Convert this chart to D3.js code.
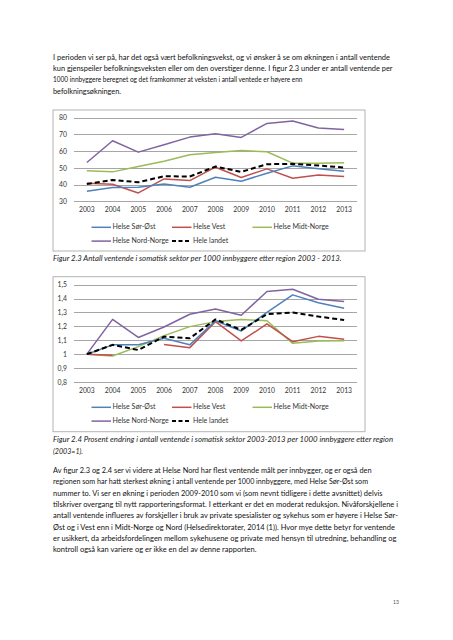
<!DOCTYPE html>
<html><head><meta charset="utf-8">
<script src="https://cdn.jsdelivr.net/npm/d3@7"></script>
<style>
html,body{margin:0;padding:0;background:#fff;}
svg{display:block;}
text{font-family:Lato,"Open Sans","Liberation Sans",sans-serif;}
</style></head>
<body>
<svg id="page" width="453" height="640"></svg>
<script>
const years = ["2003","2004","2005","2006","2007","2008","2009","2010","2011","2012","2013"];
const seriesNames = ["Helse Sør-Øst","Helse Vest","Helse Midt-Norge","Helse Nord-Norge","Hele landet"];
const seriesColors = ["#4F81BD","#C0504D","#9BBB59","#8064A2","#000000"];

// Figure 2.3: per 1000 inhabitants
const sorOst1   = [36.0,38.2,38.4,40.4,38.4,44.4,42.0,46.8,51.2,49.4,48.0];
const vest1     = [40.8,40.2,35.0,43.4,42.4,50.4,44.2,49.4,43.8,45.8,44.8];
const midt1     = [48.2,47.6,50.8,54.0,57.8,59.2,60.4,59.6,52.8,52.8,53.0];
const nord1     = [53.2,66.2,59.4,63.8,68.4,70.4,68.2,76.6,78.0,73.8,73.0];
const landet1   = [40.4,42.8,41.4,45.0,44.8,50.8,47.6,52.2,52.4,51.4,50.2];
const ticks1    = [30,40,50,60,70,80];

// Figure 2.4: change index (2003=1)
const sorOst2   = [1.0,1.067,1.067,1.114,1.067,1.240,1.167,1.300,1.426,1.370,1.330];
const vest2     = [1.0,0.992,null,1.070,1.047,1.234,1.095,1.217,1.090,1.128,1.107];
const midt2     = [1.0,0.987,1.054,1.133,1.198,1.234,1.250,1.240,1.078,1.095,1.097];
const nord2     = [1.0,1.250,1.120,1.195,1.287,1.325,1.280,1.450,1.467,1.395,1.378];
const landet2   = [1.0,1.067,1.030,1.126,1.114,1.250,1.174,1.287,1.300,1.270,1.246];
const ticks2    = [0.8,0.9,1.0,1.1,1.2,1.3,1.4,1.5];

const para1 = [
 "I perioden vi ser på, har det også vært befolkningsvekst, og vi ønsker å se om økningen i antall ventende",
 "kun gjenspeiler befolkningsveksten eller om den overstiger denne. I figur 2.3 under er antall ventende per",
 "1000 innbyggere beregnet og det framkommer at veksten i antall ventede er høyere enn",
 "befolkningsøkningen."
];
const caption1 = ["Figur 2.3 Antall ventende i somatisk sektor per 1000 innbyggere etter region 2003 - 2013."];
const caption2 = [
 "Figur 2.4 Prosent endring i antall ventende i somatisk sektor 2003-2013 per 1000 innbyggere etter region",
 "(2003=1)."
];
const para2 = [
 "Av figur 2.3 og 2.4 ser vi videre  at Helse Nord har flest ventende målt per innbygger, og er også den",
 "regionen som har hatt sterkest økning i antall ventende per 1000 innbyggere, med Helse Sør-Øst som",
 "nummer to. Vi ser en økning i perioden 2009-2010 som vi (som nevnt tidligere i dette avsnittet) delvis",
 "tilskriver overgang til nytt rapporteringsformat. I etterkant er det en moderat reduksjon. Nivåforskjellene i",
 "antall ventende influeres av forskjeller i bruk av private spesialister og sykehus som er høyere i Helse Sør-",
 "Øst og i Vest enn i Midt-Norge og Nord (Helsedirektorater, 2014 (1)). Hvor mye dette betyr for ventende",
 "er usikkert, da arbeidsfordelingen mellom sykehusene og private med hensyn til utredning, behandling og",
 "kontroll også kan variere og er ikke en del av denne rapporten."
];
const pageNumber = "13";

const svg = d3.select("#page");

function textBlock(lines, x, y0, lh, widths, opts) {
  lines.forEach((t, i) => {
    const el = svg.append("text")
      .attr("x", x).attr("y", y0 + i * lh)
      .attr("font-size", opts.size)
      .attr("fill", opts.fill || "#111")
      .attr("font-style", opts.italic ? "italic" : "normal")
      .attr("dominant-baseline", "middle")
      .text(t);
    if (widths && widths[i]) el.attr("textLength", widths[i]).attr("lengthAdjust", "spacingAndGlyphs");
  });
}

// paragraph 1
textBlock(para1, 53, 57.5, 11.45, [337, 339.5, 249.5, 68], {size: 8.2});

function drawChart(cfg) {
  const g = svg.append("g");
  g.append("rect").attr("x", cfg.box[0]).attr("y", cfg.box[1])
    .attr("width", cfg.box[2] - cfg.box[0]).attr("height", cfg.box[3] - cfg.box[1])
    .attr("fill", "#fff").attr("stroke", "#b3b3b3").attr("stroke-width", 1);

  const x = d3.scaleBand().domain(years).range([74, 357]);
  const y = d3.scaleLinear().domain(cfg.domain).range(cfg.yrange);

  // gridlines
  g.append("g").selectAll("line").data(cfg.ticks).join("line")
    .attr("x1", 74).attr("x2", 357)
    .attr("y1", d => Math.round(y(d)) + 0.5).attr("y2", d => Math.round(y(d)) + 0.5)
    .attr("stroke", "#a6a6a6").attr("stroke-width", 1);

  // y axis labels
  const yAxis = d3.axisLeft(y).tickValues(cfg.ticks).tickSize(0).tickPadding(0)
    .tickFormat(cfg.fmt);
  const ya = g.append("g").attr("transform", "translate(67,0)").call(yAxis);
  ya.select(".domain").remove();
  ya.selectAll("text").attr("font-size", 6.8).attr("fill", "#333")
    .attr("font-family", "Lato, 'Open Sans', sans-serif");

  // x axis labels
  const xAxis = d3.axisBottom(x).tickSize(0).tickPadding(0);
  const xa = g.append("g").attr("transform", `translate(0,${cfg.xLabelY - 4})`).call(xAxis);
  xa.select(".domain").remove();
  xa.selectAll("text").attr("font-size", 6.8).attr("fill", "#333")
    .attr("font-family", "Lato, 'Open Sans', sans-serif");

  const line = d3.line()
    .defined(d => d != null)
    .x((d, i) => x(years[i]) + x.bandwidth() / 2)
    .y(d => y(d));

  const order = [3, 2, 1, 0, 4];
  order.forEach(k => {
    const p = g.append("path").datum(cfg.series[k])
      .attr("d", line).attr("fill", "none")
      .attr("stroke", seriesColors[k])
      .attr("stroke-width", k === 4 ? 2 : 1.5)
      .attr("stroke-linejoin", "round");
    if (k === 4) p.attr("stroke-dasharray", "5,3");
  });

  // legend
  const legPos = [[91.5, 0], [172, 0], [252.5, 0], [91.5, 1], [172, 1]];
  legPos.forEach((pp, k) => {
    const ly = cfg.legendY + pp[1] * 13.8;
    const ll = g.append("line").attr("x1", pp[0]).attr("x2", pp[0] + 19.5)
      .attr("y1", ly).attr("y2", ly)
      .attr("stroke", seriesColors[k]).attr("stroke-width", k === 4 ? 2 : 1.5);
    if (k === 4) ll.attr("stroke-dasharray", "4,2.5");
    g.append("text").attr("x", pp[0] + 21).attr("y", ly)
      .attr("dominant-baseline", "middle")
      .attr("font-size", 7).attr("fill", "#333").text(seriesNames[k]);
  });
}

drawChart({
  box: [53, 110, 365, 251],
  domain: [30, 80], yrange: [201.3, 117.7], ticks: ticks1,
  fmt: d3.format("d"),
  xLabelY: 211.3, legendY: 227.3,
  series: [sorOst1, vest1, midt1, nord1, landet1]
});

textBlock(caption1, 53, 258.5, 11.5, [288.5], {size: 8, italic: true, fill: "#1a1a1a"});

drawChart({
  box: [53, 276.7, 365, 431.7],
  domain: [0.8, 1.5], yrange: [382, 284.6], ticks: ticks2,
  fmt: d => d === 1 ? "1" : d3.format(".1f")(d).replace(".", ","),
  xLabelY: 391.7, legendY: 407.3,
  series: [sorOst2, vest2, midt2, nord2, landet2]
});

textBlock(caption2, 53, 440, 11.6, [340, 30], {size: 8, italic: true, fill: "#1a1a1a"});

textBlock(para2, 53, 470.7, 11.38, [318.5, 315, 329.5, 345, 345, 342, 343.5, 203.5], {size: 8.2});

svg.append("text").attr("x", 393).attr("y", 603).attr("dominant-baseline", "middle")
  .attr("font-size", 5).attr("fill", "#555").text(pageNumber);
</script>
</body></html>
